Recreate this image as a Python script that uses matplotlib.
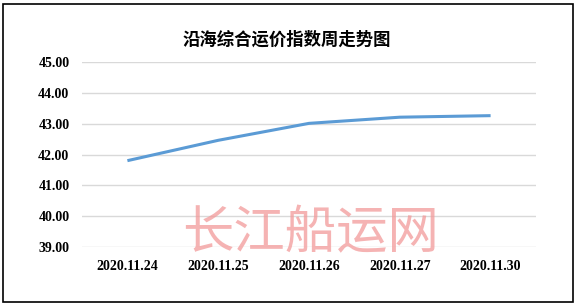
import matplotlib.pyplot as plt
from matplotlib.patches import Rectangle

# data
dates = ["2020.11.24", "2020.11.25", "2020.11.26", "2020.11.27", "2020.11.30"]
index_values = [41.80, 42.46, 43.01, 43.21, 43.26]
y_ticks = [39, 40, 41, 42, 43, 44, 45]

title = "沿海综合运价指数周走势图"
watermark = "长江船运网"

fig = plt.figure(figsize=(5.75, 3.05), dpi=100)
ax = fig.add_axes([82 / 575, 58 / 305, 454 / 575, 185 / 305])

x = list(range(len(dates)))
ax.plot(x, index_values, color="#5b9bd5", linewidth=2.2, solid_capstyle="butt", zorder=3)

ax.set_xlim(-0.5, len(dates) - 0.5)
ax.set_ylim(39, 45)
ax.set_yticks(y_ticks)
ax.set_yticklabels(["%.2f" % v for v in y_ticks], fontfamily="Liberation Serif",
                   fontweight="bold", fontsize=10)
ax.set_xticks(x)
ax.set_xticklabels(dates, fontfamily="Liberation Serif", fontweight="bold", fontsize=10)
ax.tick_params(axis="both", length=0)
ax.tick_params(axis="y", pad=9)
ax.tick_params(axis="x", pad=9)
ax.grid(axis="y", color="#d9d9d9", linewidth=1)
ax.set_axisbelow(True)
for s in ax.spines.values():
    s.set_visible(False)

fig.text(287 / 575, 1 - 40 / 305, title, ha="center", va="center", fontsize=12.5,
         fontweight="bold", fontfamily="Noto Sans CJK SC")

# watermark
fig.text(311 / 575, 1 - 233 / 305, watermark, ha="center", va="center", fontsize=37,
         color="#f29a9a", alpha=0.75, fontfamily="Noto Sans CJK SC", fontweight="light",
         zorder=5)

# border round the image
fig.patches.append(Rectangle((3 / 575, 3 / 305), 570 / 575, 298 / 305, transform=fig.transFigure,
                             fill=False, edgecolor="black", linewidth=1.2))

fig.savefig("out.png", dpi=100)
